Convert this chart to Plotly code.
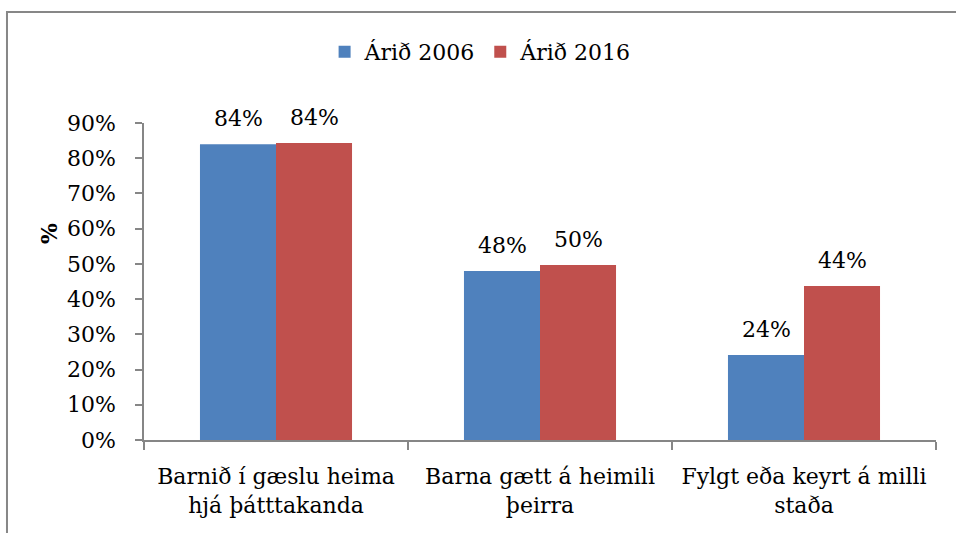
import plotly.graph_objects as go

categories = ["Barnið í gæslu heima<br>hjá þátttakanda",
              "Barna gætt á heimili<br>þeirra",
              "Fylgt eða keyrt á milli<br>staða"]
series_names = ["Árið 2006", "Árið 2016"]
values_2006 = [0.84, 0.48, 0.241]
values_2016 = [0.843, 0.497, 0.437]
tick_vals = [0, 0.1, 0.2, 0.3, 0.4, 0.5, 0.6, 0.7, 0.8, 0.9]
tick_text = ["0%", "10%", "20%", "30%", "40%", "50%", "60%", "70%", "80%", "90%"]

colors = ["#4F81BD", "#C0504D"]
FONT = "DejaVu Serif"
AXIS = "#868686"

fig = go.Figure()
for name, vals, col in zip(series_names, [values_2006, values_2016], colors):
    fig.add_trace(go.Bar(x=categories, y=vals, name=name, marker=dict(color=col, line=dict(width=0))))

annotations = []
for shift, vals in zip([-38, 38], [values_2006, values_2016]):
    for c, v in zip(categories, vals):
        annotations.append(dict(x=c, y=v, xref="x", yref="y", text=f"{v*100:.0f}%",
                                showarrow=False, xshift=shift, yshift=11, yanchor="bottom",
                                font=dict(family=FONT, size=22, color="#000")))
annotations.append(dict(x=-0.12, y=0.653, xref="paper", yref="paper", text="<b>%</b>",
                        textangle=-90, showarrow=False, xanchor="center", yanchor="middle",
                        font=dict(family=FONT, size=22, color="#000")))

fig.update_layout(
    width=956, height=533,
    margin=dict(l=144, r=20, t=123, b=93),
    paper_bgcolor="white", plot_bgcolor="white",
    barmode="group", bargap=0.424, bargroupgap=0,
    font=dict(family=FONT, size=22, color="#000"),
    legend=dict(orientation="h", x=0.4250, y=1.224, xanchor="center", yanchor="middle",
                font=dict(family=FONT, size=22, color="#000"), itemwidth=30),
    annotations=annotations,
    showlegend=True,
    shapes=[dict(type="rect", xref="paper", yref="paper", x0=-0.173, y0=-0.33, x1=1.08, y1=1.350,
                 line=dict(color="#878787", width=2), fillcolor="rgba(0,0,0,0)", layer="below")],
)
fig.update_xaxes(showline=True, linecolor=AXIS, linewidth=1.5, ticks="outside", ticklen=8,
                 tickcolor=AXIS, tickwidth=1.5, tickson="boundaries", showgrid=False,
                 tickfont=dict(family=FONT, size=22, color="#000"), ticklabelstandoff=16)
fig.update_yaxes(range=[0, 0.9], tickvals=tick_vals, ticktext=tick_text, showline=True,
                 linecolor=AXIS, linewidth=1.5, ticks="outside", ticklen=7, tickcolor=AXIS,
                 tickwidth=1.5, showgrid=False, zeroline=False,
                 tickfont=dict(family=FONT, size=22, color="#000"), ticklabelstandoff=15)

fig.write_html("out.html", config={"displayModeBar": False},
               post_script="document.body.style.margin='0';document.body.style.overflow='hidden';")
